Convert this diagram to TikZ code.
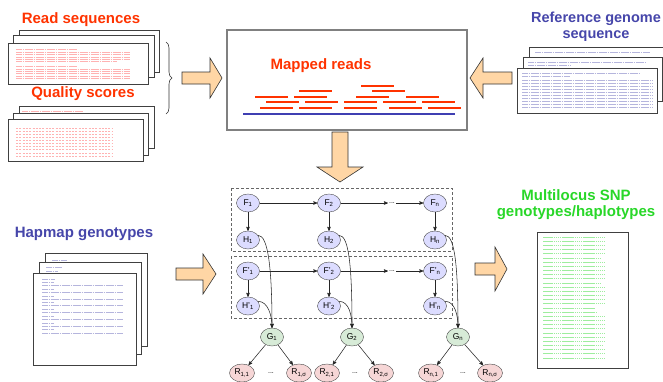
\documentclass[tikz,border=0pt]{standalone}
\usepackage{fontspec}
\setmainfont{Liberation Sans}
\usetikzlibrary{arrows}
\usetikzlibrary{shapes.geometric}
\usetikzlibrary{decorations.pathreplacing}
\definecolor{titlered}{RGB}{255,51,0}
\definecolor{titleblue}{RGB}{70,70,170}
\definecolor{titlegreen}{RGB}{40,215,40}
\definecolor{arrowfill}{RGB}{255,214,165}
\definecolor{fnode}{RGB}{220,220,255}
\definecolor{gnode}{RGB}{215,235,215}
\definecolor{rnode}{RGB}{246,214,214}
\tikzset{
	>=stealth',
	title/.style={font=\bfseries\fontsize{15}{16}\selectfont, align=center, inner sep=0pt},
	page/.style={draw=black!75, fill=white, line width=0.8pt},
	fatarrow/.style={draw=black!80, fill=arrowfill, line width=0.6pt, line join=miter},
	latent/.style={
		ellipse,
		draw=black!70,
		fill=fnode,
		minimum width=23pt,
		minimum height=18pt,
		inner sep=0pt,
		font=\fontsize{8.5}{9}\selectfont},
	geno/.style={latent, fill=gnode},
	readn/.style={latent, fill=rnode, minimum width=25pt},
	gap/.style={inner sep=1pt, font=\fontsize{7}{7}\selectfont},
	frame/.style={draw=black!60, densely dashed, line width=0.6pt},
	link/.style={->, black!85, line width=0.55pt},
	redtxt/.style={red!30, line width=0.45pt, dash pattern=on 1.8pt off 0.4pt},
	bluetxt/.style={titleblue!40, line width=0.45pt, dash pattern=on 1.8pt off 0.4pt},
	greentxt/.style={titlegreen!45, line width=0.45pt, dash pattern=on 1.6pt off 0.5pt},
	readbar/.style={draw=titlered, line width=2.2pt},
}

\begin{document}
\begin{tikzpicture}[x=1pt, y=-1pt]
	\useasboundingbox (0,0) rectangle (663,381);

	% read sequences
	\node[title, text=titlered] (readsT) at (81,20) {Read sequences};
	\draw[page] (19,30) rectangle (159,72);
	\draw[redtxt] (22,42) -- (83,42);
	\draw[page] (13,35) rectangle (154,77);
	\draw[page] (8,43) rectangle (148,84);
	\draw[redtxt] (16,49) -- (77,49);
	\foreach \y in {52.3,54.7,57,59.3} \draw[redtxt] (16,\y) -- (130,\y);
	\draw[redtxt] (16,61.7) -- (117,61.7);
	\draw[redtxt] (16,66) -- (77,66);
	\foreach \y in {69,71.3,73.7,76,78.7} \draw[redtxt] (16,\y) -- (130,\y);

	% quality scores
	\node[title, text=titlered] (qualT) at (83,94) {Quality scores};
	\draw[page] (19,106) rectangle (154,148);
	\draw[redtxt] (22,111) -- (83,111);
	\draw[page] (13,113) rectangle (148,155);
	\draw[page] (8,119) rectangle (143,161);
	\foreach \y in {128,131.1,...,156} \draw[redtxt, dash pattern=on 2pt off 1.3pt] (16,\y) -- (113,\y);

	\coordinate (braceTop) at (166,42);
	\coordinate (braceBot) at (166,114);
	\draw[decorate, decoration={brace, amplitude=6pt}, black!80, line width=0.6pt] (braceTop) -- (braceBot);

	\draw[fatarrow, shift={(182,78)}] (0,-6) -- (28,-6) -- (28,-20) -- (40,0) -- (28,20) -- (28,6) -- (0,6) -- cycle;

	% mapped reads
	\draw[draw=black!50, line width=1.2pt] (227,30) rectangle (467,130);
	\node[title, text=titlered] (mapT) at (321,66) {Mapped reads};
	\foreach \x/\y in {361/86, 299/91, 372/91,
		255/97, 294/97, 356/97, 406/97,
		266/102, 305/102, 344/102, 383/102, 422/102,
		260/108, 299/108, 344/108, 389/108, 428/108}
		\draw[readbar] (\x,\y) -- ++(33,0);
	\draw[draw=titleblue!90!blue, line width=2.4pt] (243,114) -- (455,114);

	% reference genome
	\node[title, text=titleblue, font=\bfseries\fontsize{14.5}{16}\selectfont] (refT) at (596,27) {Reference genome\\sequence};
	\draw[page] (529,47) rectangle (668,90);
	\draw[bluetxt] (535,52) -- (650,52);
	\draw[page] (523,57) rectangle (662,101);
	\draw[bluetxt] (528,62) -- (645,62);
	\draw[bluetxt] (528,65) -- (570,65);
	\draw[page] (517,68) rectangle (657,113);
	\draw[bluetxt] (522,73) -- (640,73);
	\draw[bluetxt] (522,76.5) -- (570,76.5);
	\foreach \y in {80,83,...,107} \draw[bluetxt] (522,\y) -- (652,\y);

	\draw[fatarrow, shift={(512,78)}, rotate=180] (0,-6) -- (29,-6) -- (29,-20) -- (42,0) -- (29,20) -- (29,6) -- (0,6) -- cycle;

	% down arrow
	\draw[fatarrow, shift={(340,132)}, rotate=-90] (0,-8) -- (35,-8) -- (35,-23) -- (50,0) -- (35,23) -- (35,8) -- (0,8) -- cycle;

	% hapmap
	\node[title, text=titleblue] (hapT) at (84,234) {Hapmap genotypes};
	\draw[page] (45,253) rectangle (147,346);
	\draw[bluetxt] (52,260) -- (67,260);
	\draw[page] (39,262) rectangle (141,354);
	\draw[bluetxt] (46,267) -- (62,267);
	\draw[bluetxt] (46,271) -- (58,271);
	\draw[page] (33,273) rectangle (136,365);
	\draw[bluetxt] (42,279) -- (55,279);
	\foreach \y in {282,289,296,302,309,316,323,329} \draw[bluetxt] (42,\y) -- (54,\y);
	\foreach \y in {285,292,299,305,312,319,326,333} \draw[bluetxt] (42,\y) -- (123,\y);

	\draw[fatarrow, shift={(176,274)}] (0,-6) -- (27,-6) -- (27,-20) -- (40,0) -- (27,20) -- (27,6) -- (0,6) -- cycle;

	% graphical model
	\draw[frame] (231,188) rectangle (452,251);
	\draw[frame] (231,256) rectangle (452,318);

	\node[latent] (F1) at (248,203) {F\textsubscript{1}};
	\node[latent] (F2) at (329,203) {F\textsubscript{2}};
	\node[gap] (Fdots) at (392,203) {...};
	\node[latent] (Fn) at (435,203) {F\textsubscript{n}};
	\node[latent] (H1) at (248,240) {H\textsubscript{1}};
	\node[latent] (H2) at (329,240) {H\textsubscript{2}};
	\node[latent] (Hn) at (435,240) {H\textsubscript{n}};

	\node[latent] (Fp1) at (248,271) {F'\textsubscript{1}};
	\node[latent] (Fp2) at (329,271) {F'\textsubscript{2}};
	\node[gap] (Fpdots) at (392,271) {...};
	\node[latent] (Fpn) at (435,271) {F'\textsubscript{n}};
	\node[latent] (Hp1) at (248,306) {H'\textsubscript{1}};
	\node[latent] (Hp2) at (329,306) {H'\textsubscript{2}};
	\node[latent] (Hpn) at (435,306) {H'\textsubscript{n}};

	\node[geno] (G1) at (272,337) {G\textsubscript{1}};
	\node[geno] (G2) at (352,337) {G\textsubscript{2}};
	\node[geno] (Gn) at (458,337) {G\textsubscript{n}};

	\node[readn] (R11) at (242,373) {R\textsubscript{1,1}};
	\node[gap] (R1dots) at (271,373) {...};
	\node[readn] (R1s) at (299,373) {R\textsubscript{1,σ}};
	\node[readn] (R21) at (327,373) {R\textsubscript{2,1}};
	\node[gap] (R2dots) at (355,373) {...};
	\node[readn] (R2s) at (381,373) {R\textsubscript{2,σ}};
	\node[readn] (Rn1) at (431,373) {R\textsubscript{n,1}};
	\node[gap] (Rndots) at (463,373) {...};
	\node[readn] (Rns) at (490,373) {R\textsubscript{n,σ}};

	\draw[link] (F1) -- (F2);
	\draw[link] (F2) -- (Fdots);
	\draw[link] (Fdots) -- (Fn);
	\draw[link] (Fp1) -- (Fp2);
	\draw[link] (Fp2) -- (Fpdots);
	\draw[link] (Fpdots) -- (Fpn);
	\foreach \i in {1,2,n} {
		\draw[link] (F\i) -- (H\i);
		\draw[link] (Fp\i) -- (Hp\i);
		\draw[link] (H\i.25) .. controls +(10,0) and +(0,-60) .. (G\i.north);
		\draw[link] (Hp\i.25) .. controls +(10,0) and +(0,-12) .. (G\i.north);
	}
	\draw[link] (G1) -- (R11);
	\draw[link] (G1) -- (R1s);
	\draw[link] (G2) -- (R21);
	\draw[link] (G2) -- (R2s);
	\draw[link] (Gn) -- (Rn1);
	\draw[link] (Gn) -- (Rns);

	% output
	\draw[fatarrow, shift={(475,269)}] (0,-6) -- (20,-6) -- (20,-22) -- (32,0) -- (20,22) -- (20,6) -- (0,6) -- cycle;
	\node[title, text=titlegreen] (snpT) at (576,205) {Multilocus SNP\\genotypes/haplotypes};
	\draw[page, line width=0.6pt] (537,232) rectangle (628,368);
	\foreach \y/\l in {237/62, 241/62, 245/62, 249/62, 253/62, 258/57, 262/62, 266/62,
		270/62, 274/62, 278/62, 283/57, 287/62, 291/62, 295/62, 299/62, 303/62,
		308/52, 312/54, 316/62, 320/62, 324/62, 328/62, 333/62, 337/62, 341/62,
		345/60, 349/62, 353/62, 358/62}
		\draw[greentxt] (543,\y) -- ++(\l,0);
\end{tikzpicture}
\end{document}
